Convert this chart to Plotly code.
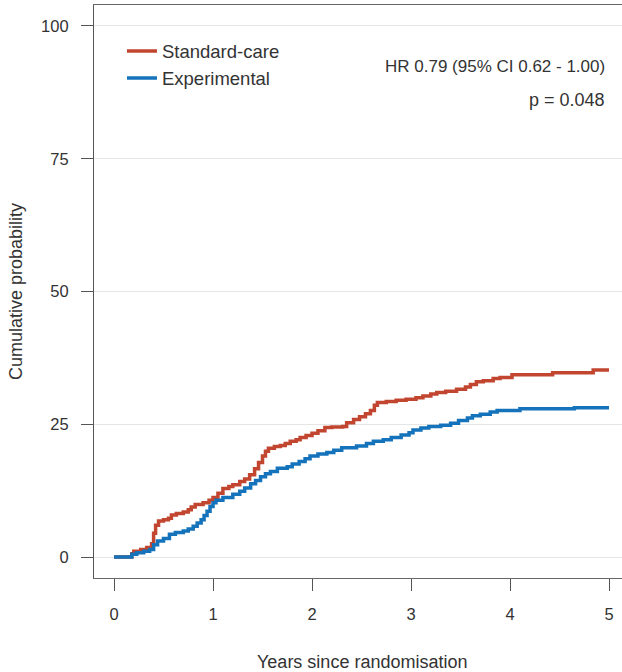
import plotly.graph_objects as go

# Standard-care cumulative probability (%) by years since randomisation
std_time = [0, 0.18, 0.2, 0.27, 0.33, 0.38, 0.4, 0.42, 0.45, 0.5, 0.55, 0.58, 0.63, 0.7, 0.75, 0.78,
            0.82, 0.9, 0.96, 1.0, 1.05, 1.1, 1.16, 1.2, 1.27, 1.32, 1.37, 1.42, 1.46, 1.5, 1.53,
            1.56, 1.62, 1.68, 1.73, 1.78, 1.84, 1.88, 1.94, 2.0, 2.06, 2.13, 2.2, 2.31, 2.35, 2.42,
            2.48, 2.54, 2.59, 2.63, 2.66, 2.75, 2.85, 2.95, 3.05, 3.12, 3.2, 3.26, 3.35, 3.46, 3.55,
            3.6, 3.66, 3.73, 3.83, 3.9, 4.02, 4.43, 4.84, 5.0]
std_prob = [0, 0.6, 1.1, 1.4, 1.8, 2.5, 4.5, 6.0, 6.8, 7.0, 7.3, 7.9, 8.2, 8.5, 8.9, 9.4,
            9.9, 10.2, 10.7, 11.2, 12.0, 12.9, 13.3, 13.6, 14.2, 14.7, 15.5, 16.6, 17.8, 19.0, 19.9,
            20.5, 20.8, 21.0, 21.4, 21.8, 22.1, 22.5, 22.9, 23.3, 23.8, 24.4, 24.5, 24.6, 25.3, 25.9,
            26.4, 27.0, 27.6, 28.6, 29.1, 29.3, 29.5, 29.7, 30.0, 30.3, 30.7, 31.0, 31.2, 31.6, 32.0,
            32.5, 33.0, 33.2, 33.6, 33.8, 34.3, 34.7, 35.2, 35.2]

# Experimental cumulative probability (%)
exp_time = [0, 0.18, 0.23, 0.3, 0.36, 0.4, 0.44, 0.5, 0.56, 0.62, 0.7, 0.75, 0.8, 0.84, 0.88,
            0.91, 0.94, 0.97, 1.0, 1.03, 1.1, 1.2, 1.27, 1.32, 1.38, 1.43, 1.48, 1.53, 1.58, 1.65,
            1.75, 1.8, 1.87, 1.93, 1.98, 2.06, 2.15, 2.22, 2.3, 2.45, 2.55, 2.62, 2.72, 2.8, 2.9,
            2.98, 3.02, 3.1, 3.18, 3.3, 3.4, 3.48, 3.57, 3.62, 3.7, 3.8, 3.87, 4.1, 4.65, 5.0]
exp_prob = [0, 0.5, 0.8, 1.1, 1.4, 2.3, 3.0, 3.5, 4.3, 4.6, 4.9, 5.3, 5.8, 6.4, 7.0,
            7.8, 8.6, 9.5, 10.2, 10.7, 11.2, 11.8, 12.4, 13.0, 13.8, 14.4, 15.1, 15.7, 16.1, 16.7,
            17.0, 17.5, 18.0, 18.5, 19.0, 19.4, 19.7, 20.1, 20.6, 20.9, 21.4, 21.8, 22.1, 22.5, 23.0,
            23.4, 23.9, 24.3, 24.6, 24.8, 25.2, 25.7, 26.2, 26.6, 26.9, 27.3, 27.6, 27.9, 28.1, 28.1]

x_ticks = [0, 1, 2, 3, 4, 5]
y_ticks = [0, 25, 50, 75, 100]

RED = "#C1452F"
BLUE = "#1473BA"
FONT = "Liberation Sans, Arial, sans-serif"
FS = 16.5
TXT = "#333333"

fig = go.Figure()
fig.add_trace(go.Scatter(x=std_time, y=std_prob, mode="lines", line_shape="hv",
                         line=dict(color=RED, width=3.5), name="Standard-care", legendgroup="a"))
fig.add_trace(go.Scatter(x=exp_time, y=exp_prob, mode="lines", line_shape="hv",
                         line=dict(color=BLUE, width=3.5), name="Experimental", legendgroup="b"))

fig.update_layout(
    width=622, height=672,
    margin=dict(l=94, r=0, t=5, b=94),
    paper_bgcolor="white", plot_bgcolor="white",
    font=dict(family=FONT, size=FS, color=TXT),
    showlegend=True,
    legend=dict(x=0.053, y=0.952, xanchor="left", yanchor="top", bgcolor="rgba(0,0,0,0)",
                font=dict(size=18.5, color=TXT), tracegroupgap=0, traceorder="grouped"),
    xaxis=dict(range=[-0.202, 5.131], tickvals=x_ticks, ticktext=[str(v) for v in x_ticks],
               showgrid=False, zeroline=False, showline=True, linecolor="#666666", linewidth=1.2,
               mirror=True, ticks="outside", ticklen=12, tickcolor="#555555", tickwidth=1,
               ticklabelstandoff=9, tickfont=dict(size=FS, color=TXT)),
    yaxis=dict(range=[-3.95, 103.95], tickvals=y_ticks, ticktext=[str(v) for v in y_ticks],
               showgrid=True, gridcolor="#E6E6E6", gridwidth=1.2, zeroline=False,
               showline=True, linecolor="#555555", linewidth=1.2,
               ticks="outside", ticklen=12, tickcolor="#555555", tickwidth=1,
               ticklabelstandoff=9, tickfont=dict(size=FS, color=TXT)),
    annotations=[
        dict(text="HR 0.79 (95% CI 0.62 - 1.00)", xref="paper", yref="paper",
             x=(607 - 94) / 528, y=(578 - 67) / 573, xanchor="right", yanchor="middle",
             showarrow=False, font=dict(size=17, color=TXT)),
        dict(text="p = 0.048", xref="paper", yref="paper",
             x=(607 - 94) / 528, y=(578 - 100) / 573, xanchor="right", yanchor="middle",
             showarrow=False, font=dict(size=18, color=TXT)),
        dict(text="Years since randomisation", xref="paper", yref="paper",
             x=(362 - 94) / 528, y=(578 - 662) / 573, xanchor="center", yanchor="middle",
             showarrow=False, font=dict(size=18, color=TXT)),
        dict(text="Cumulative probability", xref="paper", yref="paper", textangle=-90,
             x=(16 - 94) / 528, y=(578 - 292) / 573, xanchor="center", yanchor="middle",
             showarrow=False, font=dict(size=18, color=TXT)),
    ],
)

fig.write_html("out.html", config={"displayModeBar": False},
               post_script="document.body.style.margin='0';document.body.style.overflow='hidden';")
